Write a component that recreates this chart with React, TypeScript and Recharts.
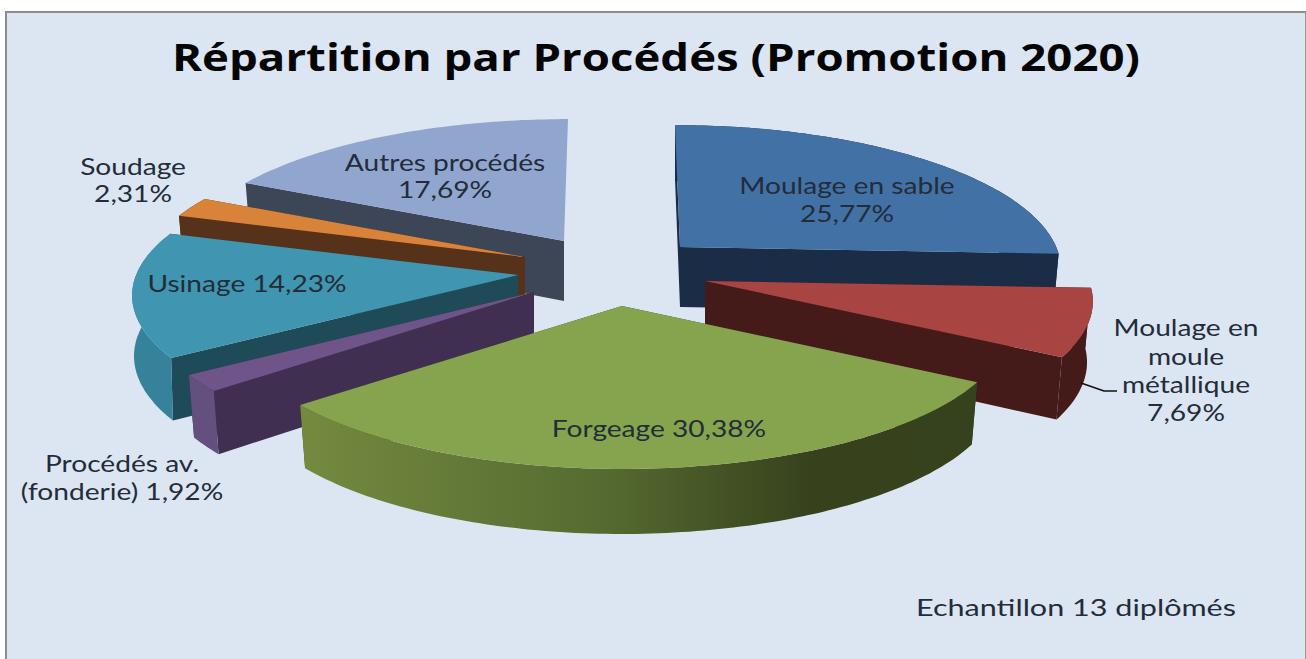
import React from "react";
import { PieChart, Pie, Cell } from "recharts";

const categories = [
  "Moulage en sable",
  "Moulage en moule métallique",
  "Forgeage",
  "Procédés av. (fonderie)",
  "Usinage",
  "Soudage",
  "Autres procédés",
];
const shares = [25.77, 7.69, 30.38, 1.92, 14.23, 2.31, 17.69];
const pieData = categories.map((name, i) => ({ name, value: shares[i] }));

const TITLE = "Répartition par Procédés (Promotion 2020)";
const NOTE = "Echantillon 13 diplômés";

const labelLines: Record<string, string[]> = {
  "Moulage en sable": ["Moulage en sable", "%"],
  "Moulage en moule métallique": ["Moulage en", "moule", "métallique", "%"],
  Forgeage: ["Forgeage %"],
  "Procédés av. (fonderie)": ["Procédés av.", "(fonderie) %"],
  Usinage: ["Usinage %"],
  Soudage: ["Soudage", "%"],
  "Autres procédés": ["Autres procédés", "%"],
};

// Style and placement, kept apart from the data
const CX = 600;
const CY = 280;
const RADIUS = 380;
const TILT = 0.367;
const PERSPECTIVE = 0.144;
const DEPTH = 60;
const FONT = "Lato, 'Noto Sans', sans-serif";
const TEXT_STRETCH = 1.25;
const TEXT_SIZE = 22.5;

type Look = {
  dx: number;
  dy: number;
  lean: number;
  reach: number;
  shrink?: number;
  flat?: boolean;
  top: string;
  side: string;
  rim: string;
};
const looks: Record<string, Look> = {
  "Moulage en sable": { dx: 80, dy: -33, lean: -5, reach: 0.99, top: "#4271a6", side: "#1b2d46", rim: "#1b2d46" },
  "Moulage en moule métallique": { dx: 105, dy: 1, lean: 0, reach: 1.01, top: "#a84442", side: "#451b19", rim: "#451b19" },
  Forgeage: { dx: 22, dy: 26, lean: 0, reach: 1.005, top: "#86a44e", side: "#36411d", rim: "url(#forgeRim)" },
  "Procédés av. (fonderie)": { dx: -66, dy: 12, lean: 0, reach: 1, top: "#6f5489", side: "#402f50", rim: "#63507f" },
  Usinage: { dx: -82, dy: -5, lean: 0, reach: 1.005, shrink: 0.995, top: "#4096b0", side: "#1f4b59", rim: "#35829a" },
  Soudage: { dx: -75, dy: -23, lean: 0, reach: 1, top: "#d98239", side: "#57321a", rim: "#57321a" },
  "Autres procédés": { dx: -36, dy: -39, lean: 4, reach: 1, flat: true, top: "#91a6cf", side: "#3c4657", rim: "#3c4657" },
};
const zOrder = [
  "Autres procédés",
  "Moulage en sable",
  "Soudage",
  "Usinage",
  "Procédés av. (fonderie)",
  "Moulage en moule métallique",
  "Forgeage",
];
const labelSpots: Record<string, { x: number; ys: number[] }> = {
  "Moulage en sable": { x: 847, ys: [194, 222] },
  "Moulage en moule métallique": { x: 1186, ys: [336, 365, 393, 421] },
  Forgeage: { x: 659, ys: [437] },
  "Procédés av. (fonderie)": { x: 122, ys: [472, 500] },
  Usinage: { x: 247, ys: [292] },
  Soudage: { x: 133, ys: [175, 202] },
  "Autres procédés": { x: 445, ys: [171, 198] },
};

function makeProjector(cx: number, cy: number, R: number, look: Look) {
  const ax = cx + look.dx;
  const ay = cy + look.dy;
  const shrink = look.shrink ?? 0.985;
  return (deg: number, r: number, lower: boolean): [number, number] => {
    const a = (deg * Math.PI) / 180;
    const X = r * Math.cos(a);
    const Y = r * Math.sin(a);
    const w = 1 + PERSPECTIVE * Y;
    let x = ax + (R * look.reach * X) / w + look.lean * Y;
    let y = ay - (R * TILT * Y) / w;
    if (lower) {
      x = ax + (x - ax) * shrink;
      y += DEPTH * (1 + 0.5 * (1 / w - 1));
    }
    return [x, y];
  };
}

const toPath = (pts: [number, number][]) =>
  "M" + pts.map((p) => `${p[0].toFixed(1)},${p[1].toFixed(1)}`).join("L") + "Z";

function Slice(props: any, layer: string) {
  const name = props.name ?? props.payload?.name;
  if (name !== layer) return <g />;
  const look = looks[name];
  const { cx, cy, outerRadius, startAngle, endAngle } = props;
  const p = makeProjector(cx, cy, outerRadius, look);
  const steps = Math.max(2, Math.ceil(Math.abs(endAngle - startAngle)));
  const arc: number[] = [];
  for (let i = 0; i <= steps; i++) arc.push(startAngle + ((endAngle - startAngle) * i) / steps);
  const topFace = toPath([p(0, 0, false), ...arc.map((d) => p(d, 1, false))]);
  const rimFace = toPath([
    ...arc.map((d) => p(d, 1, false)),
    ...[...arc].reverse().map((d) => p(d, 1, true)),
  ]);
  const radial = (d: number) =>
    toPath([p(0, 0, false), p(d, 1, false), p(d, 1, true), p(0, 0, true)]);
  const midY = Math.sin((((startAngle + endAngle) / 2) * Math.PI) / 180);
  const rim = look.flat ? null : <path d={rimFace} fill={look.rim} />;
  return (
    <g>
      <defs>
        <linearGradient id="forgeRim" gradientUnits="userSpaceOnUse" x1="302" x2="978" y1="0" y2="0">
          <stop offset="0" stopColor="#748a3f" />
          <stop offset="0.45" stopColor="#556a30" />
          <stop offset="0.75" stopColor="#37421d" />
          <stop offset="1" stopColor="#36411d" />
        </linearGradient>
      </defs>
      {midY > 0 && rim}
      <path d={radial(startAngle)} fill={look.side} />
      {!look.flat && <path d={radial(endAngle)} fill={look.side} />}
      {midY <= 0 && rim}
      <path d={topFace} fill={look.top} />
    </g>
  );
}

function SliceLabel(props: any) {
  const name = props.name ?? props.payload?.name;
  const spot = labelSpots[name];
  const pct = Number(props.value).toFixed(2).replace(".", ",") + "%";
  return (
    <g>
      {name === "Moulage en moule métallique" && (
        <polyline points="1081,383 1104,391 1117,391" fill="none" stroke="#111" strokeWidth={1.6} />
      )}
      {labelLines[name].map((line, i) => (
        <text
          key={i}
          transform={`translate(${spot.x},${spot.ys[i]}) scale(${TEXT_STRETCH},1)`}
          textAnchor="middle"
          fontFamily={FONT}
          fontSize={TEXT_SIZE}
          fill="#232c38"
        >
          {line.replace("%", pct)}
        </text>
      ))}
    </g>
  );
}

export default function App() {
  return (
    <div style={{ position: "absolute", left: 0, top: 0, width: 1306, height: 659, background: "#fff", overflow: "hidden" }}>
      <div
        style={{
          position: "absolute",
          left: 5,
          top: 11,
          width: 1301,
          height: 660,
          background: "#dce6f2",
          borderLeft: "2px solid #8c8c8c",
          borderTop: "2px solid #8c8c8c",
          borderRight: "1px solid #9a9a9a",
          boxSizing: "border-box",
        }}
      />
      <div style={{ position: "absolute", left: 0, top: 0 }}>
        <PieChart width={1306} height={659} margin={{ top: 0, right: 0, bottom: 0, left: 0 }}>
          <text x={172} y={71} fontFamily="'Open Sans', sans-serif" fontWeight={700} fontSize={38} fill="#050505" textLength={968} lengthAdjust="spacingAndGlyphs">
            {TITLE}
          </text>
          <text x={916} y={616} fontFamily={FONT} fontSize={TEXT_SIZE} fill="#232c38" textLength={320} lengthAdjust="spacingAndGlyphs">
            {NOTE}
          </text>
          {zOrder.map((layer, i) => (
            <Pie
              key={layer}
              data={pieData}
              dataKey="value"
              nameKey="name"
              cx={CX}
              cy={CY}
              outerRadius={RADIUS}
              innerRadius={0}
              startAngle={90}
              endAngle={-270}
              stroke="none"
              isAnimationActive={false}
              legendType="none"
              shape={(props: any) => Slice(props, layer)}
              labelLine={false}
              label={i === zOrder.length - 1 ? SliceLabel : false}
            >
              {pieData.map((d) => (
                <Cell key={d.name} fill={looks[d.name].top} />
              ))}
            </Pie>
          ))}
        </PieChart>
      </div>
    </div>
  );
}
